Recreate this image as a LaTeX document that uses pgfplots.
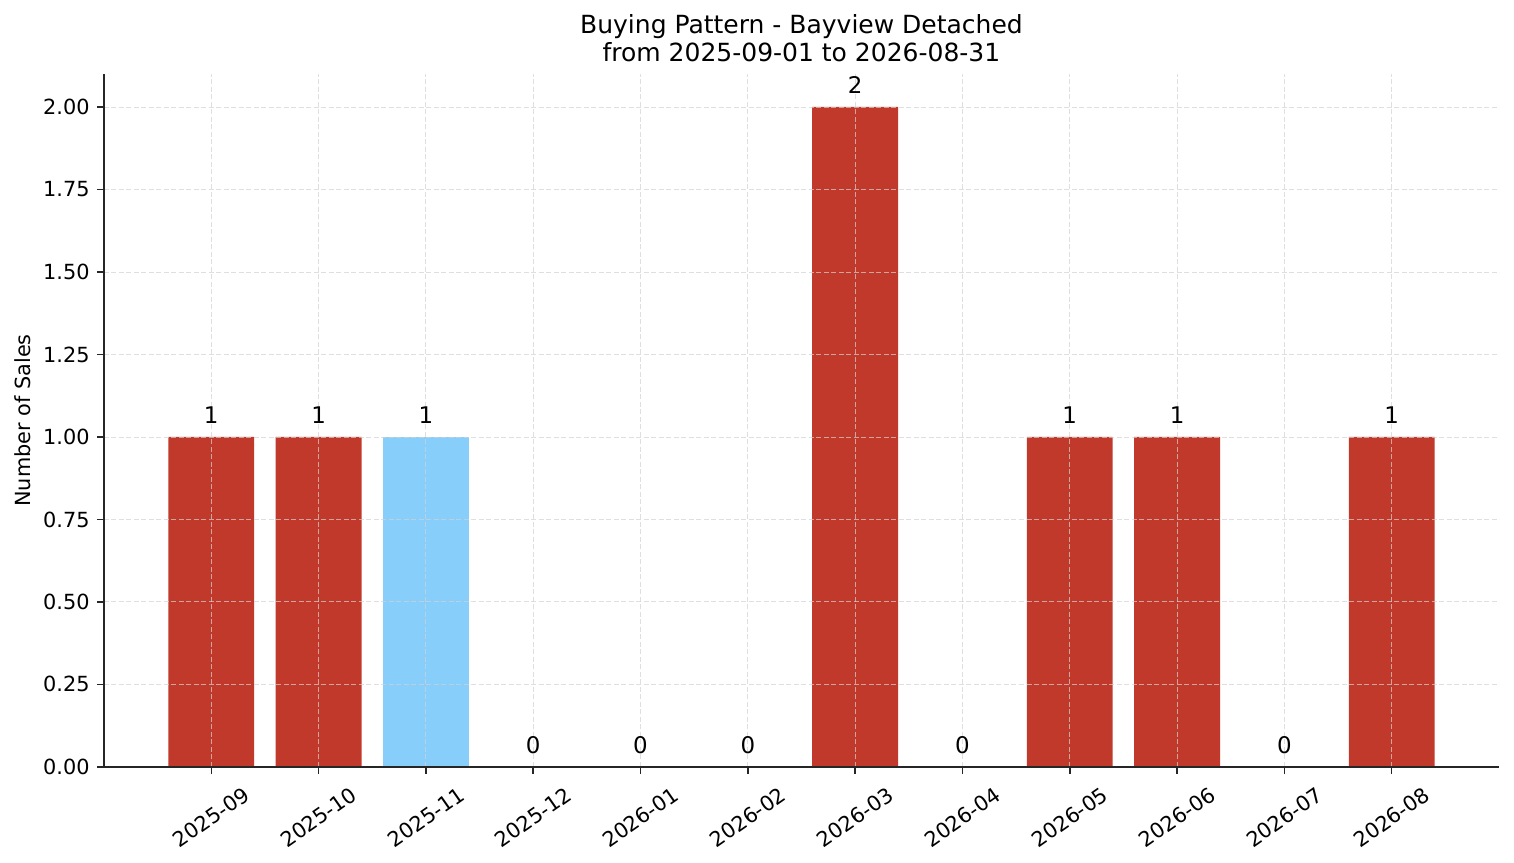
\documentclass[border=0pt]{standalone}
\usepackage{fontspec}
\setmainfont{DejaVu Sans}
\usepackage{pgfplots}
\pgfplotsset{compat=1.18}

\definecolor{barred}{HTML}{C0392B}
\definecolor{barblue}{HTML}{87CEFA}
\definecolor{spine}{HTML}{262626}

\begin{document}
\begin{tikzpicture}
\begin{axis}[
    scale only axis,
    width=669.6pt, height=332.6pt,
    ybar, bar width=0.8, bar shift=0pt,
    xmin=-1, xmax=12,
    ymin=0, ymax=2.1,
    axis x line*=bottom, axis y line*=left,
    axis line style={spine, line width=0.7pt},
    tick align=outside, major tick length=3.4pt,
    tick style={spine, line width=0.7pt},
    xtick={0,...,11},
    xticklabels={2025-09,2025-10,2025-11,2025-12,2026-01,2026-02,2026-03,2026-04,2026-05,2026-06,2026-07,2026-08},
    xticklabel style={anchor=center, yshift=-20.8pt, rotate=35, font=\fontsize{10}{12}\selectfont},
    ytick={0,0.25,...,2.0},
    yticklabel style={font=\fontsize{10}{12}\selectfont, /pgf/number format/fixed, /pgf/number format/fixed zerofill, /pgf/number format/precision=2},
    /pgf/number format/assume math mode=true,
    ylabel={Number of Sales},
    ylabel style={at={(axis description cs:-0.058,0.5)}, anchor=center, font=\fontsize{10}{12}\selectfont},
    title={Buying Pattern - Bayview Detached\\from 2025-09-01 to 2026-08-31},
    title style={align=center, font=\fontsize{12}{13.5}\selectfont, yshift=-3.8pt},
    grid=major,
    grid style={dashed, dash pattern=on 2.4pt off 1.2pt, gray!35, line width=0.4pt, opacity=0.7},
    axis on top,
    nodes near coords,
    every node near coord/.append style={font=\fontsize{11}{13}\selectfont, black, yshift=2.7pt, /pgf/number format/assume math mode=true},
]
  % all months except the highlighted one
  \addplot[fill=barred, draw=none] coordinates {
    (0,1) (1,1) (3,0) (4,0) (5,0) (6,2) (7,0) (8,1) (9,1) (10,0) (11,1)
  };
  % highlighted month
  \addplot[fill=barblue, draw=none] coordinates {
    (2,1)
  };
\end{axis}
\path ([shift={(-49.9pt,-46.1pt)}]current axis.south west) rectangle ([shift={(7.2pt,35.5pt)}]current axis.north east);
\end{tikzpicture}
\end{document}
